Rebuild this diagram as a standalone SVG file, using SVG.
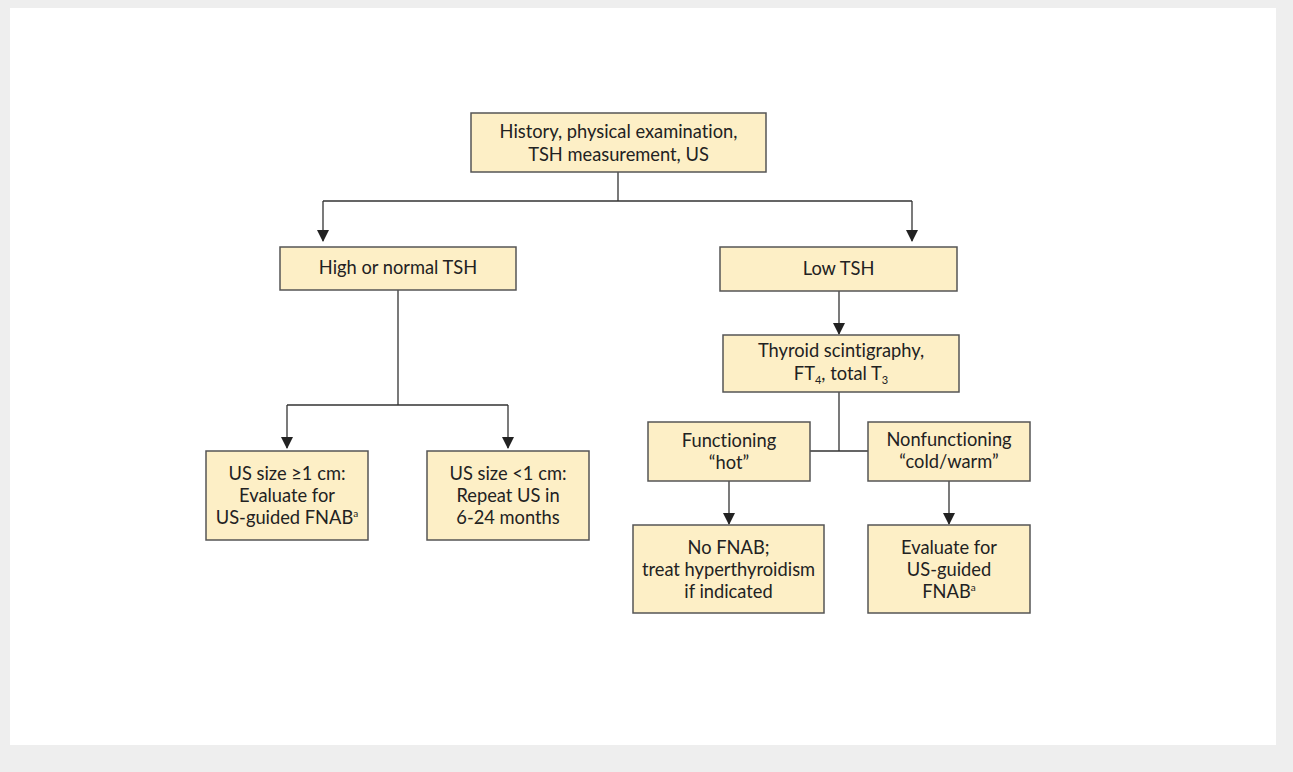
<svg xmlns="http://www.w3.org/2000/svg" width="1293" height="772" viewBox="0 0 1293 772">
<defs>
<marker id="arr" markerWidth="12" markerHeight="12" refX="11" refY="6" orient="auto" markerUnits="userSpaceOnUse" viewBox="0 0 12 12">
<path d="M0,0 L12,6 L0,12 Z" fill="#222"/>
</marker>
</defs>
<style>
.box{fill:#fdefc6;stroke:#555;stroke-width:1.5}
.t{font-family:Lato,"Open Sans","Liberation Sans",sans-serif;font-size:18.3px;fill:#222;text-anchor:middle;font-variant-ligatures:none}
.c{fill:none;stroke:#333;stroke-width:1.3}
.ca{fill:none;stroke:#333;stroke-width:1.3;marker-end:url(#arr)}
</style>
<rect x="0" y="0" width="1293" height="772" fill="#eeeeee"/>
<rect x="10" y="8" width="1266" height="737" fill="#ffffff"/>
<g id="connectors">
<path class="c" d="M618,172 V201 M323,201 H912"/>
<path class="ca" d="M323,201 V241"/>
<path class="ca" d="M912,201 V241"/>
<path class="c" d="M398,290 V405 M287,405 H508"/>
<path class="ca" d="M287,405 V448"/>
<path class="ca" d="M508,405 V448"/>
<path class="ca" d="M839,291 V334"/>
<path class="c" d="M839,392 V451 M810,451 H868"/>
<path class="ca" d="M729,481 V524"/>
<path class="ca" d="M949,481 V524"/>
</g>
<g id="n-history">
<rect class="box" x="471" y="113" width="295" height="59"/>
<text class="t" x="618.5" y="138">History, physical examination,</text>
<text class="t" x="618.5" y="161">TSH measurement, US</text>
</g>
<g id="n-high">
<rect class="box" x="280" y="247" width="236" height="43"/>
<text class="t" x="398" y="274">High or normal TSH</text>
</g>
<g id="n-low">
<rect class="box" x="720" y="247" width="237" height="44"/>
<text class="t" x="838.5" y="275">Low TSH</text>
</g>
<g id="n-ge1">
<rect class="box" x="206" y="451" width="162" height="89"/>
<text class="t" x="287" y="480">US size ≥1 cm:</text>
<text class="t" x="287" y="502">Evaluate for</text>
<text class="t" x="287" y="524">US-guided FNAB<tspan font-size="10" dy="-7">a</tspan></text>
</g>
<g id="n-lt1">
<rect class="box" x="427" y="451" width="162" height="89"/>
<text class="t" x="508" y="480">US size &lt;1 cm:</text>
<text class="t" x="508" y="502">Repeat US in</text>
<text class="t" x="508" y="524">6-24 months</text>
</g>
<g id="n-scint">
<rect class="box" x="723" y="335" width="236" height="57"/>
<text class="t" x="841" y="357">Thyroid scintigraphy,</text>
<text class="t" x="841" y="380">FT<tspan font-size="11" dy="4">4</tspan><tspan dy="-4">, total T</tspan><tspan font-size="11" dy="4">3</tspan></text>
</g>
<g id="n-hot">
<rect class="box" x="648" y="422" width="162" height="59"/>
<text class="t" x="729" y="447">Functioning</text>
<text class="t" x="729" y="469">“hot”</text>
</g>
<g id="n-cold">
<rect class="box" x="868" y="422" width="162" height="59"/>
<text class="t" x="949" y="446">Nonfunctioning</text>
<text class="t" x="949" y="468">“cold/warm”</text>
</g>
<g id="n-nofnab">
<rect class="box" x="633" y="525" width="191" height="88"/>
<text class="t" x="728.5" y="554">No FNAB;</text>
<text class="t" x="728.5" y="576">treat hyperthyroidism</text>
<text class="t" x="728.5" y="598">if indicated</text>
</g>
<g id="n-eval">
<rect class="box" x="868" y="525" width="162" height="88"/>
<text class="t" x="949" y="554">Evaluate for</text>
<text class="t" x="949" y="576">US-guided</text>
<text class="t" x="949" y="598">FNAB<tspan font-size="10" dy="-7">a</tspan></text>
</g>
</svg>
